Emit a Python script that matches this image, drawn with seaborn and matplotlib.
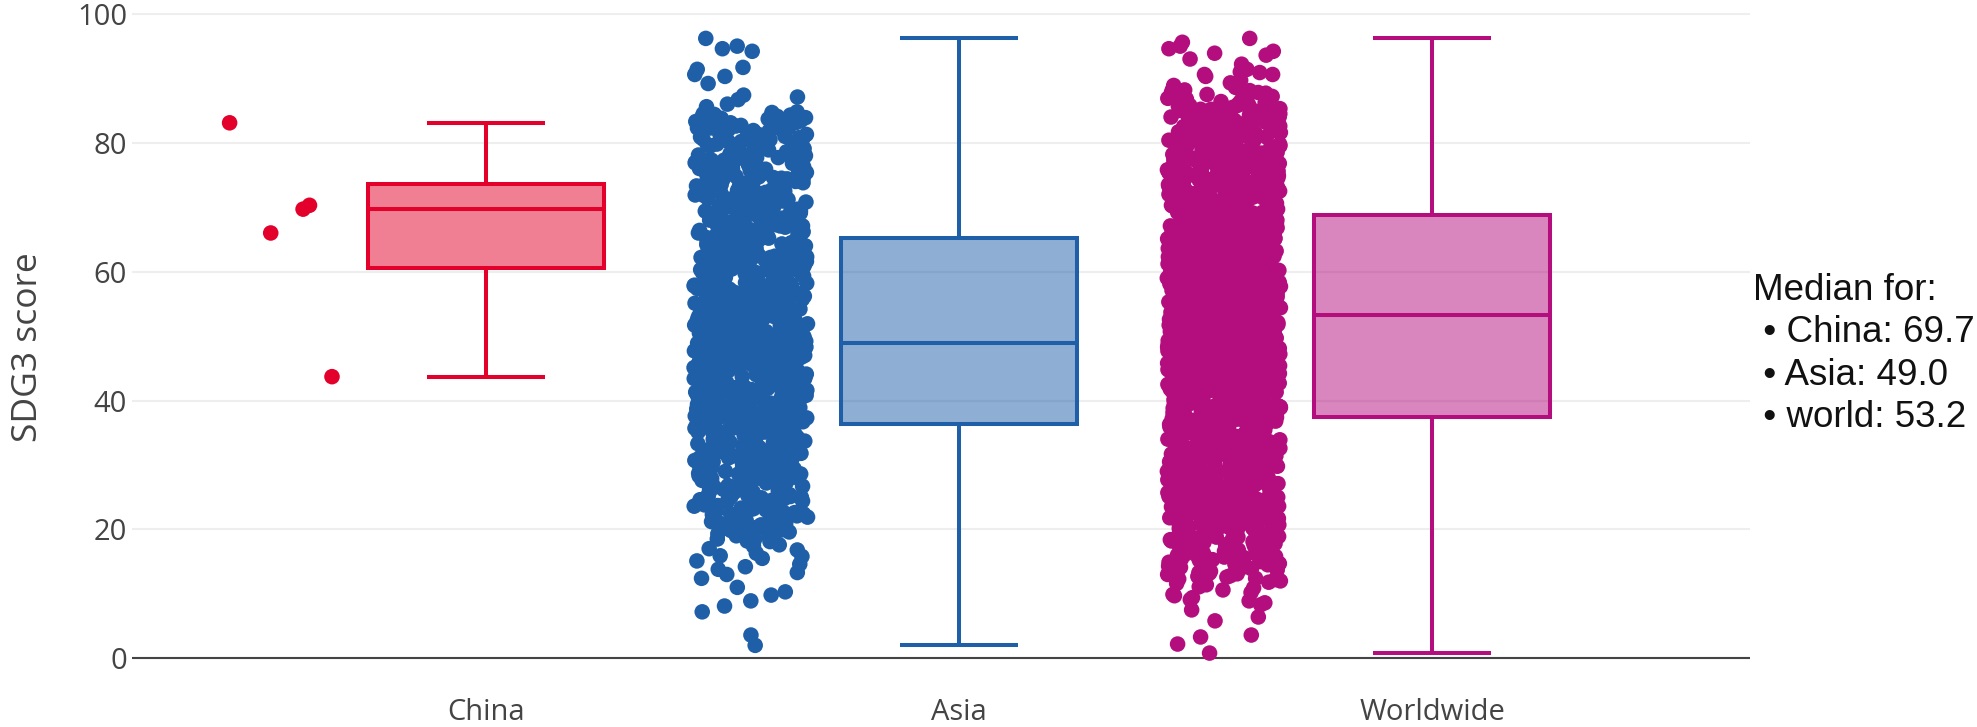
import numpy as np
import pandas as pd
import matplotlib
matplotlib.use("Agg")
import matplotlib.pyplot as plt
from matplotlib.colors import to_rgba
import seaborn as sns

# categories and colours
regions = ["China", "Asia", "Worldwide"]
region_colors = ["#E3002B", "#1E5FA8", "#B40D7E"]

# SDG3 scores (dense clouds estimated bin by bin)
china_scores = [83.1, 70.3, 66.0, 69.7, 43.7]

asia_scores = [
    2.0, 3.6, 7.2, 8.1, 8.9, 9.8,
    10.3, 11.0, 12.4, 13.0, 13.3, 13.8, 14.2, 14.6,
    15.1, 15.5, 15.8, 15.9, 16.3, 16.8, 17.0, 17.4, 17.6, 18.1,
    18.2, 18.5, 18.9, 19.0, 19.2, 19.4, 19.6, 19.9,
    20.0, 20.2, 20.5, 20.6, 20.8, 21.1, 21.3, 21.4, 21.7, 21.9,
    22.1, 22.2, 22.5, 22.7, 22.8, 23.0, 23.2, 23.3, 23.6, 23.8,
    23.9, 24.1, 24.2, 24.4, 24.5, 24.6, 24.8, 24.9, 20.9, 22.4,
    25.0, 25.1, 25.3, 25.4, 25.6, 25.7, 25.9, 26.0, 26.2, 26.3,
    26.5, 26.6, 26.8, 26.9, 27.1, 27.2, 27.4, 27.5, 27.7, 27.8,
    28.0, 28.1, 28.3, 28.4, 28.6, 28.7, 28.9, 29.0, 29.2, 29.3,
    29.5, 29.6, 29.8, 29.9, 25.8, 27.3,
    30.0, 30.1, 30.3, 30.4, 30.6, 30.7, 30.9, 31.0, 31.2, 31.3,
    31.5, 31.6, 31.8, 31.9, 32.1, 32.2, 32.4, 32.5, 32.7, 32.8,
    33.0, 33.1, 33.3, 33.4, 33.6, 33.7, 33.9, 34.0, 34.2, 34.3,
    34.5, 34.6, 34.8, 34.9, 30.5, 31.7, 33.2, 34.4,
    35.0, 35.1, 35.2, 35.4, 35.5, 35.7, 35.8, 35.9, 36.1, 36.2,
    36.4, 36.5, 36.6, 36.8, 36.9, 37.1, 37.2, 37.3, 37.5, 37.6,
    37.8, 37.9, 38.0, 38.2, 38.3, 38.5, 38.6, 38.7, 38.9, 39.0,
    39.2, 39.3, 39.4, 39.6, 39.7, 39.9, 35.6, 36.3, 37.0, 38.1,
    38.8, 39.5,
    40.0, 40.1, 40.2, 40.4, 40.5, 40.6, 40.7, 40.9, 41.0, 41.1,
    41.3, 41.4, 41.5, 41.6, 41.8, 41.9, 42.0, 42.2, 42.3, 42.4,
    42.5, 42.7, 42.8, 42.9, 43.1, 43.2, 43.3, 43.4, 43.6, 43.7,
    43.8, 44.0, 44.1, 44.2, 44.3, 44.5, 44.6, 44.7, 44.9, 40.3,
    40.8, 41.2, 41.7, 42.1, 42.6, 43.0, 43.5, 43.9, 44.4, 44.8,
    45.0, 45.1, 45.2, 45.3, 45.5, 45.6, 45.7, 45.8, 45.9, 46.1,
    46.2, 46.3, 46.4, 46.6, 46.7, 46.8, 46.9, 47.0, 47.2, 47.3,
    47.4, 47.5, 47.7, 47.8, 47.9, 48.0, 48.2, 48.3, 48.4, 48.5,
    48.7, 48.8, 48.9, 49.0, 49.2, 49.3, 49.4, 49.5, 49.7, 49.8,
    49.9, 45.4, 46.0, 46.5, 47.1, 47.6, 48.1, 48.6, 49.1, 49.6,
    45.9, 46.6, 47.3, 48.2, 48.8, 49.4,
    50.0, 50.1, 50.3, 50.4, 50.5, 50.7, 50.8, 50.9, 51.1, 51.2,
    51.3, 51.5, 51.6, 51.7, 51.9, 52.0, 52.1, 52.3, 52.4, 52.5,
    52.7, 52.8, 52.9, 53.1, 53.2, 53.3, 53.5, 53.6, 53.7, 53.9,
    54.0, 54.1, 54.3, 54.4, 54.5, 54.7, 54.8, 54.9, 50.6, 51.0,
    51.4, 51.8, 52.2, 53.0, 53.8, 54.6,
    55.0, 55.1, 55.3, 55.4, 55.6, 55.7, 55.9, 56.0, 56.2, 56.3,
    56.5, 56.6, 56.8, 56.9, 57.1, 57.2, 57.4, 57.5, 57.7, 57.8,
    58.0, 58.1, 58.3, 58.4, 58.6, 58.7, 58.9, 59.0, 59.2, 59.3,
    59.5, 59.6, 59.8, 59.9, 55.5, 56.1, 56.7, 57.3, 57.9, 58.5,
    59.1, 59.7,
    60.0, 60.1, 60.3, 60.4, 60.6, 60.7, 60.9, 61.0, 61.2, 61.3,
    61.5, 61.6, 61.8, 61.9, 62.1, 62.2, 62.4, 62.5, 62.7, 62.8,
    63.0, 63.1, 63.3, 63.4, 63.6, 63.7, 63.9, 64.0, 64.2, 64.3,
    64.5, 64.6, 64.8, 64.9, 60.5, 61.4, 62.3, 63.2, 64.1, 64.7,
    65.0, 65.2, 65.3, 65.5, 65.6, 65.8, 65.9, 66.1, 66.2, 66.4,
    66.5, 66.7, 66.8, 67.0, 67.1, 67.3, 67.4, 67.6, 67.7, 67.9,
    68.0, 68.2, 68.3, 68.5, 68.6, 68.8, 68.9, 69.1, 69.2, 69.4,
    69.5, 69.7, 69.8, 65.4, 66.0, 66.6, 67.2, 68.1, 68.7, 69.3,
    70.0, 70.2, 70.3, 70.5, 70.7, 70.8, 71.0, 71.2, 71.3, 71.5,
    71.7, 71.8, 72.0, 72.2, 72.3, 72.5, 72.7, 72.8, 73.0, 73.2,
    73.3, 73.5, 73.7, 73.8, 74.0, 74.2, 74.3, 74.5, 74.7, 74.8,
    70.6, 71.4, 72.1, 72.9, 73.6, 74.4,
    75.0, 75.2, 75.4, 75.5, 75.7, 75.9, 76.1, 76.3, 76.5, 76.6,
    76.8, 77.0, 77.2, 77.4, 77.5, 77.7, 77.9, 78.1, 78.3, 78.4,
    78.6, 78.8, 79.0, 79.2, 79.4, 79.5, 79.7, 79.9, 75.8, 76.9,
    78.0, 79.1,
    80.1, 80.3, 80.5, 80.8, 81.0, 81.2, 81.4, 81.7, 81.9, 82.1,
    82.3, 82.6, 82.8, 83.0, 83.2, 83.5, 83.7, 83.9, 84.1, 84.4,
    84.6, 84.8, 80.6, 82.0, 83.3, 84.2,
    85.6, 86.0, 86.7, 87.1, 87.4, 89.2,
    90.3, 90.6, 91.4, 91.7, 94.2, 94.6, 95.0, 96.2,
    # second pass over the dense part of the cloud
    20.4, 21.6, 22.3, 23.1, 23.7, 24.3, 25.2, 25.5, 26.1, 26.7,
    27.0, 27.9, 28.2, 28.8, 29.4, 29.7, 30.2, 30.8, 31.1, 31.4,
    32.0, 32.3, 32.9, 33.5, 33.8, 34.1, 34.7, 35.3, 35.6, 36.0,
    36.7, 37.4, 37.7, 38.4, 38.6, 39.1, 39.4, 39.8, 40.2, 40.6,
    41.0, 41.3, 41.7, 42.0, 42.4, 42.9, 43.3, 43.6, 44.0, 44.3,
    44.7, 45.1, 45.4, 45.8, 46.1, 46.5, 46.8, 47.2, 47.5, 47.9,
    48.2, 48.6, 48.9, 49.3, 49.6, 49.9, 43.8, 46.4, 50.2, 50.7,
    51.0, 51.3, 51.9, 52.2, 52.5, 53.0, 53.4, 53.7, 54.2, 54.6,
    55.1, 55.4, 55.7, 56.2, 56.5, 57.0, 57.3, 57.8, 58.2, 58.5,
    59.0, 59.3, 59.8, 52.8, 56.9, 60.2, 60.7, 61.0, 61.5, 61.8,
    62.2, 62.5, 63.0, 63.5, 63.8, 64.1, 64.6, 65.1, 65.4, 65.7,
    66.2, 66.6, 67.1, 67.5, 67.8, 68.2, 68.6, 69.0, 69.4, 69.7,
    62.9, 70.1, 70.5, 71.0, 71.4, 71.9, 72.3, 72.8, 73.2, 73.7,
    74.1, 74.6, 75.0, 75.5, 75.9, 76.4, 76.8, 77.3, 77.7, 78.2,
    78.6, 79.1, 79.5, 72.6, 76.0, 80.2, 80.5, 80.9, 81.3, 81.6,
    82.0, 82.4, 82.7, 83.1, 83.4, 83.8, 84.1, 84.5,
    # third pass
    18.4, 18.9, 19.3, 19.8, 20.3, 20.7, 21.2, 21.5, 21.9, 22.4,
    22.7, 23.0, 23.4, 23.9, 24.0, 24.5, 24.8, 19.1, 20.9, 22.6,
    25.1, 25.4, 25.8, 26.2, 26.5, 26.9, 27.2, 27.6, 27.9, 28.3,
    28.6, 29.0, 29.3, 29.7, 30.0, 30.4, 30.7, 31.1, 31.4, 31.8,
    32.1, 32.5, 32.8, 33.2, 33.5, 33.9, 34.2, 34.6, 34.9, 26.0,
    27.4, 28.8, 30.2, 31.6, 33.0, 34.4,
    35.1, 35.4, 35.7, 36.0, 36.4, 36.7, 37.0, 37.3, 37.6, 38.0,
    38.3, 38.6, 38.9, 39.2, 39.6, 39.9, 40.2, 40.5, 40.8, 41.2,
    41.5, 41.8, 42.1, 42.4, 42.8, 43.1, 43.4, 43.7, 44.0, 44.4,
    44.7, 35.9, 36.9, 37.8, 38.8, 39.7, 40.7, 41.6, 42.6, 43.5,
    44.5, 37.1, 40.0, 42.9,
    45.0, 45.3, 45.6, 45.9, 46.2, 46.5, 46.8, 47.1, 47.4, 47.7,
    48.0, 48.3, 48.6, 48.9, 49.2, 49.5, 49.8, 50.1, 50.4, 50.7,
    51.0, 51.3, 51.6, 51.9, 52.2, 52.5, 52.8, 53.1, 53.4, 53.7,
    54.0, 54.3, 54.6, 54.9, 45.7, 46.6, 47.5, 48.4, 49.3, 50.2,
    51.1, 52.0, 52.9, 53.8, 47.0, 50.8,
    55.2, 55.5, 55.9, 56.2, 56.6, 56.9, 57.3, 57.6, 58.0, 58.3,
    58.7, 59.0, 59.4, 59.7, 60.1, 60.4, 60.8, 61.1, 61.5, 61.8,
    62.2, 62.5, 62.9, 63.2, 63.6, 63.9, 64.3, 64.6, 55.7, 56.8,
    57.9, 59.1, 60.3, 61.4, 62.6, 63.7, 64.9, 58.5,
    65.1, 65.5, 65.8, 66.2, 66.5, 66.9, 67.3, 67.6, 68.0, 68.3,
    68.7, 69.1, 69.4, 69.8, 70.1, 70.5, 70.9, 71.2, 71.6, 71.9,
    72.3, 72.7, 73.0, 73.4, 73.7, 74.1, 74.5, 74.8, 66.0, 68.5,
    71.0, 73.5,
    75.2, 75.6, 76.0, 76.4, 76.8, 77.3, 77.7, 78.1, 78.5, 78.9,
    79.3, 79.8, 80.2, 80.6, 81.0, 81.4, 81.8, 82.3, 82.7, 83.1,
    83.5, 83.9, 84.3, 84.7,
]

world_scores = [
    0.8, 2.2, 3.3, 3.6, 5.8, 6.4, 7.5, 8.3, 8.6, 8.9, 9.1, 9.4, 9.7, 9.9,
    10.2, 10.6, 10.9, 11.1, 11.4, 11.8, 12.0, 12.3, 12.4, 12.8,
    13.0, 13.1, 13.3, 13.6, 13.7, 13.9, 14.0, 14.2, 14.3, 14.5,
    14.6, 14.8, 14.9, 11.6, 12.6, 13.5,
    15.0, 15.2, 15.3, 15.4, 15.7, 15.8, 15.9, 16.1, 16.2, 16.4,
    16.5, 16.7, 16.9, 17.0, 17.1, 17.3, 17.4, 17.6, 17.8, 17.9,
    18.0, 18.2, 18.3, 18.5, 18.6, 18.7, 18.9, 19.0, 19.2, 19.3,
    19.5, 19.6, 19.8, 19.9, 15.5, 16.0, 16.8, 17.5, 18.1, 18.8,
    19.4, 19.7,
    20.0, 20.1, 20.3, 20.4, 20.6, 20.7, 20.8, 21.0, 21.1, 21.3,
    21.4, 21.5, 21.7, 21.8, 22.0, 22.1, 22.2, 22.4, 22.5, 22.7,
    22.8, 22.9, 23.1, 23.2, 23.4, 23.5, 23.6, 23.8, 23.9, 24.1,
    24.2, 24.3, 24.5, 24.6, 24.8, 24.9, 20.2, 20.9, 21.2, 21.6,
    22.3, 22.6, 23.0, 23.3, 23.7, 24.0, 24.4, 24.7, 20.5, 21.9,
    22.9, 23.6, 24.2, 21.0, 22.4,
    25.0, 25.1, 25.3, 25.4, 25.5, 25.7, 25.8, 26.0, 26.1, 26.2,
    26.4, 26.5, 26.6, 26.8, 26.9, 27.0, 27.2, 27.3, 27.4, 27.6,
    27.7, 27.8, 28.0, 28.1, 28.2, 28.4, 28.5, 28.6, 28.8, 28.9,
    29.0, 29.2, 29.3, 29.4, 29.6, 29.7, 29.8, 25.2, 25.6, 25.9,
    26.3, 26.7, 27.1, 27.5, 27.9, 28.3, 28.7, 29.1, 29.5, 29.9,
    25.4, 26.1, 26.9, 27.4, 28.0, 28.6, 29.2, 29.8, 25.8, 27.0,
    28.4, 29.6,
    30.0, 30.1, 30.3, 30.4, 30.5, 30.7, 30.8, 30.9, 31.1, 31.2,
    31.3, 31.5, 31.6, 31.7, 31.9, 32.0, 32.1, 32.3, 32.4, 32.5,
    32.7, 32.8, 32.9, 33.1, 33.2, 33.3, 33.5, 33.6, 33.7, 33.9,
    34.0, 34.1, 34.3, 34.4, 34.5, 34.7, 34.8, 34.9, 30.2, 30.6,
    31.0, 31.4, 31.8, 32.2, 32.6, 33.0, 33.4, 33.8, 34.2, 34.6,
    30.4, 30.9, 31.3, 31.9, 32.4, 32.8, 33.3, 33.7, 34.1, 34.7,
    30.1, 30.7, 31.6, 32.1, 32.9, 33.5, 34.3, 34.9, 31.1, 33.0,
    35.0, 35.1, 35.2, 35.4, 35.5, 35.6, 35.8, 35.9, 36.0, 36.2,
    36.3, 36.4, 36.6, 36.7, 36.8, 37.0, 37.1, 37.2, 37.4, 37.5,
    37.6, 37.8, 37.9, 38.0, 38.2, 38.3, 38.4, 38.6, 38.7, 38.8,
    39.0, 39.1, 39.2, 39.4, 39.5, 39.6, 39.8, 39.9, 35.3, 35.7,
    36.1, 36.5, 36.9, 37.3, 37.7, 38.1, 38.5, 38.9, 39.3, 39.7,
    35.0, 35.4, 35.9, 36.3, 36.8, 37.2, 37.6, 38.0, 38.4, 38.9,
    39.3, 39.8, 35.2, 35.8, 36.4, 37.0, 37.5, 38.2, 38.7, 39.1,
    39.6, 35.6, 36.6, 37.4, 38.3, 39.0, 39.5, 36.0, 37.9, 38.6,
    40.0, 40.1, 40.2, 40.4, 40.5, 40.6, 40.8, 40.9, 41.0, 41.2,
    41.3, 41.4, 41.6, 41.7, 41.8, 42.0, 42.1, 42.2, 42.4, 42.5,
    42.6, 42.8, 42.9, 43.0, 43.2, 43.3, 43.4, 43.6, 43.7, 43.8,
    44.0, 44.1, 44.2, 44.4, 44.5, 44.6, 44.8, 44.9, 40.3, 40.7,
    41.1, 41.5, 41.9, 42.3, 42.7, 43.1, 43.5, 43.9, 44.3, 44.7,
    40.0, 40.4, 40.9, 41.3, 41.8, 42.2, 42.6, 43.1, 43.5, 44.0,
    44.4, 44.9, 40.2, 40.7, 41.2, 41.6, 42.1, 42.5, 43.0, 43.4,
    43.9, 44.3, 44.8, 40.5, 41.0, 41.4, 41.9, 42.3, 42.8, 43.2,
    43.7, 44.1, 44.6, 40.8, 41.7, 42.4, 42.9, 43.6, 44.2, 44.7,
    45.0, 45.1, 45.2, 45.4, 45.5, 45.6, 45.8, 45.9, 46.0, 46.2,
    46.3, 46.4, 46.6, 46.7, 46.8, 47.0, 47.1, 47.2, 47.4, 47.5,
    47.6, 47.8, 47.9, 48.0, 48.2, 48.3, 48.4, 48.6, 48.7, 48.8,
    49.0, 49.1, 49.2, 49.4, 49.5, 49.6, 49.8, 49.9, 45.3, 45.7,
    46.1, 46.5, 46.9, 47.3, 47.7, 48.1, 48.5, 48.9, 49.3, 49.7,
    45.0, 45.4, 45.9, 46.3, 46.8, 47.2, 47.6, 48.1, 48.5, 49.0,
    49.4, 49.9, 45.2, 45.7, 46.1, 46.6, 47.0, 47.5, 47.9, 48.4,
    48.8, 49.3, 49.7, 45.5, 46.0, 46.4, 46.9, 47.3, 47.8, 48.2,
    48.7, 49.1, 49.6, 45.1, 45.8, 46.5, 47.1, 47.7, 48.3, 48.9,
    49.5, 45.6, 46.2, 46.7, 47.4, 48.0, 48.6, 49.2,
    50.0, 50.1, 50.2, 50.4, 50.5, 50.6, 50.8, 50.9, 51.0, 51.2,
    51.3, 51.4, 51.6, 51.7, 51.8, 52.0, 52.1, 52.2, 52.4, 52.5,
    52.6, 52.8, 52.9, 53.0, 53.2, 53.3, 53.4, 53.6, 53.7, 53.8,
    54.0, 54.1, 54.2, 54.4, 54.5, 54.6, 54.8, 54.9, 50.3, 50.7,
    51.1, 51.5, 51.9, 52.3, 52.7, 53.1, 53.5, 53.9, 54.3, 54.7,
    50.0, 50.4, 50.9, 51.3, 51.8, 52.2, 52.6, 53.1, 53.5, 54.0,
    54.4, 54.9, 50.2, 50.7, 51.1, 51.6, 52.0, 52.5, 52.9, 53.4,
    53.8, 54.3, 54.7, 50.5, 51.0, 51.4, 51.9, 52.3, 52.8, 53.2,
    53.7, 54.1, 54.6, 50.1, 50.8, 51.5, 52.1, 52.7, 53.3, 53.9,
    54.5, 50.6, 51.2, 51.7, 52.4, 53.0, 53.6, 54.2, 54.8, 51.0,
    52.2, 53.4, 54.0, 52.9,
    55.1, 55.2, 55.3, 55.5, 55.6, 55.7, 55.9, 56.0, 56.1, 56.3,
    56.4, 56.5, 56.7, 56.8, 56.9, 57.1, 57.2, 57.3, 57.5, 57.6,
    57.7, 57.9, 58.0, 58.1, 58.3, 58.4, 58.5, 58.7, 58.8, 58.9,
    59.1, 59.2, 59.3, 59.5, 59.6, 59.7, 59.9, 55.0, 55.4, 55.8,
    56.2, 56.6, 57.0, 57.4, 57.8, 58.2, 58.6, 59.0, 59.4, 59.8,
    55.2, 55.6, 56.1, 56.5, 57.0, 57.3, 57.8, 58.2, 58.7, 59.1,
    59.5, 55.0, 55.5, 55.9, 56.4, 56.8, 57.2, 57.7, 58.1, 58.6,
    59.0, 59.4, 59.9, 55.3, 55.8, 56.3, 56.7, 57.1, 57.6, 58.0,
    58.5, 58.9, 59.3, 59.8, 55.7, 56.0, 56.9, 57.5, 58.3, 58.8,
    59.6, 55.4, 56.2, 57.4, 58.4, 59.2, 55.1, 56.6, 57.9, 59.7,
    56.0, 57.0, 58.0, 59.0,
    60.0, 60.2, 60.3, 60.4, 60.6, 60.7, 60.8, 61.0, 61.1, 61.2,
    61.4, 61.5, 61.6, 61.8, 61.9, 62.0, 62.2, 62.3, 62.4, 62.6,
    62.7, 62.8, 63.0, 63.1, 63.2, 63.4, 63.5, 63.6, 63.8, 63.9,
    64.0, 64.2, 64.3, 64.4, 64.6, 64.7, 64.8, 60.1, 60.5, 60.9,
    61.3, 61.7, 62.1, 62.5, 62.9, 63.3, 63.7, 64.1, 64.5, 64.9,
    60.2, 60.7, 61.1, 61.6, 62.0, 62.4, 62.9, 63.3, 63.8, 64.2,
    64.7, 60.0, 60.4, 60.9, 61.3, 61.8, 62.2, 62.7, 63.1, 63.6,
    64.0, 64.5, 64.9, 60.6, 61.0, 61.5, 61.9, 62.4, 62.8, 63.3,
    63.7, 64.2, 64.6, 60.3, 60.8, 61.4, 62.1, 62.6, 63.0, 63.5,
    64.1, 64.8, 60.5, 61.2, 62.3, 63.4, 64.4, 61.7, 62.9, 63.9,
    65.0, 65.1, 65.3, 65.4, 65.5, 65.7, 65.8, 65.9, 66.1, 66.2,
    66.3, 66.5, 66.6, 66.7, 66.9, 67.0, 67.1, 67.3, 67.4, 67.5,
    67.7, 67.8, 67.9, 68.1, 68.2, 68.3, 68.5, 68.6, 68.7, 68.9,
    69.0, 69.1, 69.3, 69.4, 69.5, 69.7, 69.8, 69.9, 65.2, 65.6,
    66.0, 66.4, 66.8, 67.2, 67.6, 68.0, 68.4, 68.8, 69.2, 69.6,
    65.0, 65.5, 65.9, 66.4, 66.8, 67.3, 67.7, 68.2, 68.6, 69.1,
    69.5, 65.3, 65.8, 66.2, 66.7, 67.1, 67.6, 68.0, 68.5, 68.9,
    69.4, 69.8, 65.1, 65.7, 66.3, 66.9, 67.5, 68.1, 68.7, 69.3,
    69.9, 65.4, 66.1, 66.6, 67.2, 67.8, 68.3, 68.8, 69.0, 69.7,
    65.6, 66.5, 67.4, 68.4, 69.2, 67.0,
    70.0, 70.1, 70.3, 70.4, 70.6, 70.7, 70.9, 71.0, 71.2, 71.3,
    71.5, 71.6, 71.8, 71.9, 72.1, 72.2, 72.4, 72.5, 72.7, 72.8,
    73.0, 73.1, 73.3, 73.4, 73.6, 73.7, 73.9, 74.0, 74.2, 74.3,
    74.5, 74.6, 74.8, 74.9, 70.2, 70.8, 71.4, 72.0, 72.6, 73.2,
    73.8, 74.4, 70.5, 71.1, 71.7, 72.3, 72.9, 73.5, 74.1, 74.7,
    70.0, 70.6, 71.2, 71.8, 72.4, 73.0, 73.6, 74.2, 74.8, 70.3,
    70.9, 71.5, 72.1, 72.7, 73.3, 73.9, 74.5, 70.4, 71.0, 71.6,
    72.2, 72.8, 73.4, 74.0, 74.6, 70.7, 71.3, 71.9, 72.5, 73.1,
    73.7, 74.3, 74.9, 71.4, 72.6, 73.8, 70.1, 72.0,
    75.0, 75.2, 75.3, 75.5, 75.6, 75.8, 76.0, 76.1, 76.3, 76.4,
    76.6, 76.8, 76.9, 77.1, 77.2, 77.4, 77.6, 77.7, 77.9, 78.0,
    78.2, 78.4, 78.5, 78.7, 78.8, 79.0, 79.2, 79.3, 79.5, 79.6,
    79.8, 75.1, 75.7, 76.2, 76.7, 77.3, 77.8, 78.3, 78.9, 79.4,
    79.9, 75.4, 75.9, 76.5, 77.0, 77.5, 78.1, 78.6, 79.1, 79.7,
    75.0, 75.6, 76.2, 76.8, 77.4, 78.0, 78.6, 79.2, 79.8, 75.3,
    76.0, 76.6, 77.2, 77.9, 78.4, 79.0, 79.5, 75.8, 76.4, 77.0,
    77.7, 78.2, 78.9, 79.4, 76.9, 78.0, 75.5, 77.6,
    80.0, 80.2, 80.4, 80.5, 80.7, 80.9, 81.1, 81.2, 81.4, 81.6,
    81.8, 81.9, 82.1, 82.3, 82.5, 82.6, 82.8, 83.0, 83.2, 83.3,
    83.5, 83.7, 83.9, 84.0, 84.2, 84.4, 84.6, 84.7, 84.9, 80.1,
    80.6, 81.0, 81.5, 82.0, 82.4, 82.9, 83.4, 83.8, 84.3, 84.8,
    80.3, 80.8, 81.3, 81.7, 82.2, 82.7, 83.1, 83.6, 84.1, 84.5,
    80.4, 81.0, 81.6, 82.2, 82.8, 83.4, 84.0, 84.6, 80.9, 82.0,
    83.2, 84.3, 81.4, 83.0,
    85.0, 85.3, 85.5, 85.8, 86.1, 86.3, 86.6, 86.9, 87.2, 87.5,
    87.8, 88.2, 88.6, 88.9, 89.3, 89.7, 85.2, 85.9, 86.4, 87.0,
    87.9, 88.4,
    90.3, 90.6, 90.6, 90.9, 91.0, 91.4, 92.2, 93.0, 93.6, 93.9,
    94.2, 94.6, 95.0, 95.6, 96.2,
    # second pass over the dense part of the cloud
    20.2, 21.1, 21.8, 22.6, 23.3, 24.0, 24.8, 25.6, 26.4, 27.2,
    28.1, 28.9, 29.7, 30.3, 30.9, 31.5, 32.1, 32.6, 33.2, 33.8,
    34.4, 34.9, 35.5, 36.1, 36.6, 37.2, 37.8, 38.3, 38.9, 39.5,
    40.1, 40.6, 41.1, 41.6, 42.2, 42.7, 43.2, 43.7, 44.3, 44.8,
    45.3, 45.8, 46.3, 46.9, 47.4, 47.9, 48.4, 48.9, 49.5, 50.0,
    50.5, 51.0, 51.5, 52.1, 52.6, 53.1, 53.6, 54.1, 54.7, 55.2,
    55.7, 56.2, 56.7, 57.3, 57.8, 58.3, 58.8, 59.3, 59.9, 60.4,
    60.9, 61.4, 61.9, 62.5, 63.0, 63.5, 64.0, 64.5, 65.1, 65.6,
    66.1, 66.6, 67.1, 67.7, 68.2, 68.7, 69.2, 69.7, 70.3, 70.8,
    71.4, 72.0, 72.6, 73.2, 73.8, 74.4, 75.0, 75.6, 76.2, 76.8,
    77.4, 78.0, 78.6, 79.2, 79.8, 80.4, 81.0, 81.6, 82.2, 82.8,
    83.4, 84.0, 84.6, 85.2, 85.7, 86.2, 86.8, 87.3, 87.7, 88.1,
    # third pass
    12.2, 12.7, 13.2, 13.8, 14.1, 14.7, 15.1, 15.6, 16.0, 16.6,
    17.0, 17.5, 17.9, 18.4, 18.8, 19.1, 19.5, 19.8, 16.3, 18.0,
    20.1, 20.4, 20.8, 21.0, 21.3, 21.7, 22.0, 22.2, 22.6, 22.9,
    23.1, 23.5, 23.8, 24.1, 24.4, 24.7, 25.0, 25.3, 25.7, 25.9,
    26.2, 26.6, 26.9, 27.1, 27.5, 27.8, 28.1, 28.4, 28.7, 29.0,
    29.3, 29.6, 29.9, 21.5, 23.3, 24.9, 26.4, 27.7, 28.9, 22.5,
    30.1, 30.3, 30.6, 30.9, 31.2, 31.5, 31.7, 32.0, 32.3, 32.6,
    32.9, 33.1, 33.4, 33.7, 34.0, 34.2, 34.5, 34.8, 35.1, 35.3,
    35.6, 35.9, 36.2, 36.4, 36.7, 37.0, 37.3, 37.5, 37.8, 38.1,
    38.4, 38.6, 38.9, 39.2, 39.5, 39.7, 30.8, 31.9, 33.0, 34.1,
    35.2, 36.3, 37.4, 38.5, 39.6, 32.5, 34.7, 36.9,
    40.1, 40.3, 40.6, 40.8, 41.1, 41.3, 41.6, 41.8, 42.1, 42.3,
    42.6, 42.8, 43.1, 43.3, 43.6, 43.8, 44.1, 44.3, 44.6, 44.8,
    45.1, 45.3, 45.6, 45.8, 46.1, 46.3, 46.6, 46.8, 47.1, 47.3,
    47.6, 47.8, 48.1, 48.3, 48.6, 48.8, 49.1, 49.3, 49.6, 49.8,
    40.5, 41.5, 42.5, 43.5, 44.5, 45.5, 46.5, 47.5, 48.5, 49.5,
    42.0, 47.0,
    50.2, 50.4, 50.7, 50.9, 51.2, 51.4, 51.7, 51.9, 52.2, 52.4,
    52.7, 52.9, 53.2, 53.4, 53.7, 53.9, 54.2, 54.4, 54.7, 54.9,
    55.2, 55.4, 55.7, 55.9, 56.2, 56.4, 56.7, 56.9, 57.2, 57.4,
    57.7, 57.9, 58.2, 58.4, 58.7, 58.9, 59.2, 59.4, 59.7, 59.9,
    50.5, 51.5, 52.5, 53.5, 54.5, 55.5, 56.5, 57.5, 58.5, 59.5,
    53.0, 57.0,
    60.1, 60.4, 60.6, 60.9, 61.2, 61.4, 61.7, 62.0, 62.3, 62.5,
    62.8, 63.1, 63.3, 63.6, 63.9, 64.2, 64.4, 64.7, 65.0, 65.2,
    65.5, 65.8, 66.1, 66.3, 66.6, 66.9, 67.1, 67.4, 67.7, 68.0,
    68.2, 68.5, 68.8, 69.0, 69.3, 69.6, 69.9, 61.0, 62.6, 64.0,
    65.6, 67.0, 68.6, 60.0, 63.0, 66.0,
    70.2, 70.6, 70.9, 71.3, 71.7, 72.1, 72.4, 72.8, 73.2, 73.5,
    73.9, 74.3, 74.7, 75.0, 75.4, 75.8, 76.1, 76.5, 76.9, 77.3,
    77.6, 78.0, 78.4, 78.7, 79.1, 79.5, 79.9, 74.0,
    80.2, 80.6, 81.0, 81.5, 81.9, 82.3, 82.7, 83.2, 83.6, 84.0,
    84.4, 84.9, 85.3, 85.8,
]

# box statistics as drawn in the picture
box_lo = [43.7, 2.0, 0.8]
box_q1 = [60.5, 36.3, 37.5]
box_med = [69.7, 49.0, 53.2]
box_q3 = [73.6, 65.2, 68.8]
box_hi = [83.1, 96.2, 96.2]

median_note = "Median for:\n \u2022 China: 69.7\n \u2022 Asia: 49.0\n \u2022 world: 53.2"

df = pd.DataFrame({
    "region": ["China"] * len(china_scores) + ["Asia"] * len(asia_scores)
              + ["Worldwide"] * len(world_scores),
    "score": china_scores + asia_scores + world_scores,
})

sns.set_theme(style="white")
plt.rcParams["font.family"] = ["Open Sans", "DejaVu Sans"]

W, H = 1977, 727
fig = plt.figure(figsize=(W / 100, H / 100), dpi=100)
ax = fig.add_axes([132 / W, 43 / H, (1750 - 132) / W, (684 - 10.7) / H])

# points: jittered strip, moved to the left side of each box
np.random.seed(7)
sns.stripplot(data=df, x="region", y="score", hue="region", order=regions,
              hue_order=regions, palette=region_colors, jitter=0.12, size=11.2,
              linewidth=0, legend=False, ax=ax, zorder=3)
for coll in ax.collections:
    offs = np.asarray(coll.get_offsets()).copy()
    offs[:, 0] -= 0.44
    coll.set_offsets(offs)

# boxes from the stats
for i, c in enumerate(region_colors):
    st = dict(whislo=box_lo[i], q1=box_q1[i], med=box_med[i], q3=box_q3[i],
              whishi=box_hi[i], fliers=[])
    line = dict(color=c, linewidth=2.9, solid_capstyle="butt")
    ax.bxp([st], positions=[i], widths=0.5, capwidths=0.25, patch_artist=True,
           showfliers=False, manage_ticks=False, zorder=2,
           boxprops=dict(facecolor=to_rgba(c, 0.5), edgecolor=c, linewidth=2.9,
                         joinstyle="miter"),
           medianprops=line, whiskerprops=line, capprops=line)

ax.set_xlim(-0.748, 2.672)
ax.set_ylim(-4, 100.5)
ax.set_yticks([0, 20, 40, 60, 80, 100])
ax.yaxis.grid(True, color="#eeeeee", linewidth=1.5)
ax.xaxis.grid(False)
ax.set_axisbelow(True)
for s in ax.spines.values():
    s.set_visible(False)
ax.axhline(0, color="#444444", linewidth=1.5, zorder=1)

ax.tick_params(axis="both", length=0, labelsize=21, colors="#444444")
ax.tick_params(axis="y", pad=3.5)
ax.tick_params(axis="x", pad=10)
ax.set_xlabel("")
ax.set_ylabel("SDG3 score", fontsize=25.5, color="#444444")
ax.yaxis.set_label_coords(-0.054, 0.5)

fig.text(1753 / W, 0.513, median_note, family=["Liberation Sans", "DejaVu Sans"],
         fontsize=26.5, color="#111111", ha="left", va="center", linespacing=1.27)

fig.savefig("out.png", dpi=100)
